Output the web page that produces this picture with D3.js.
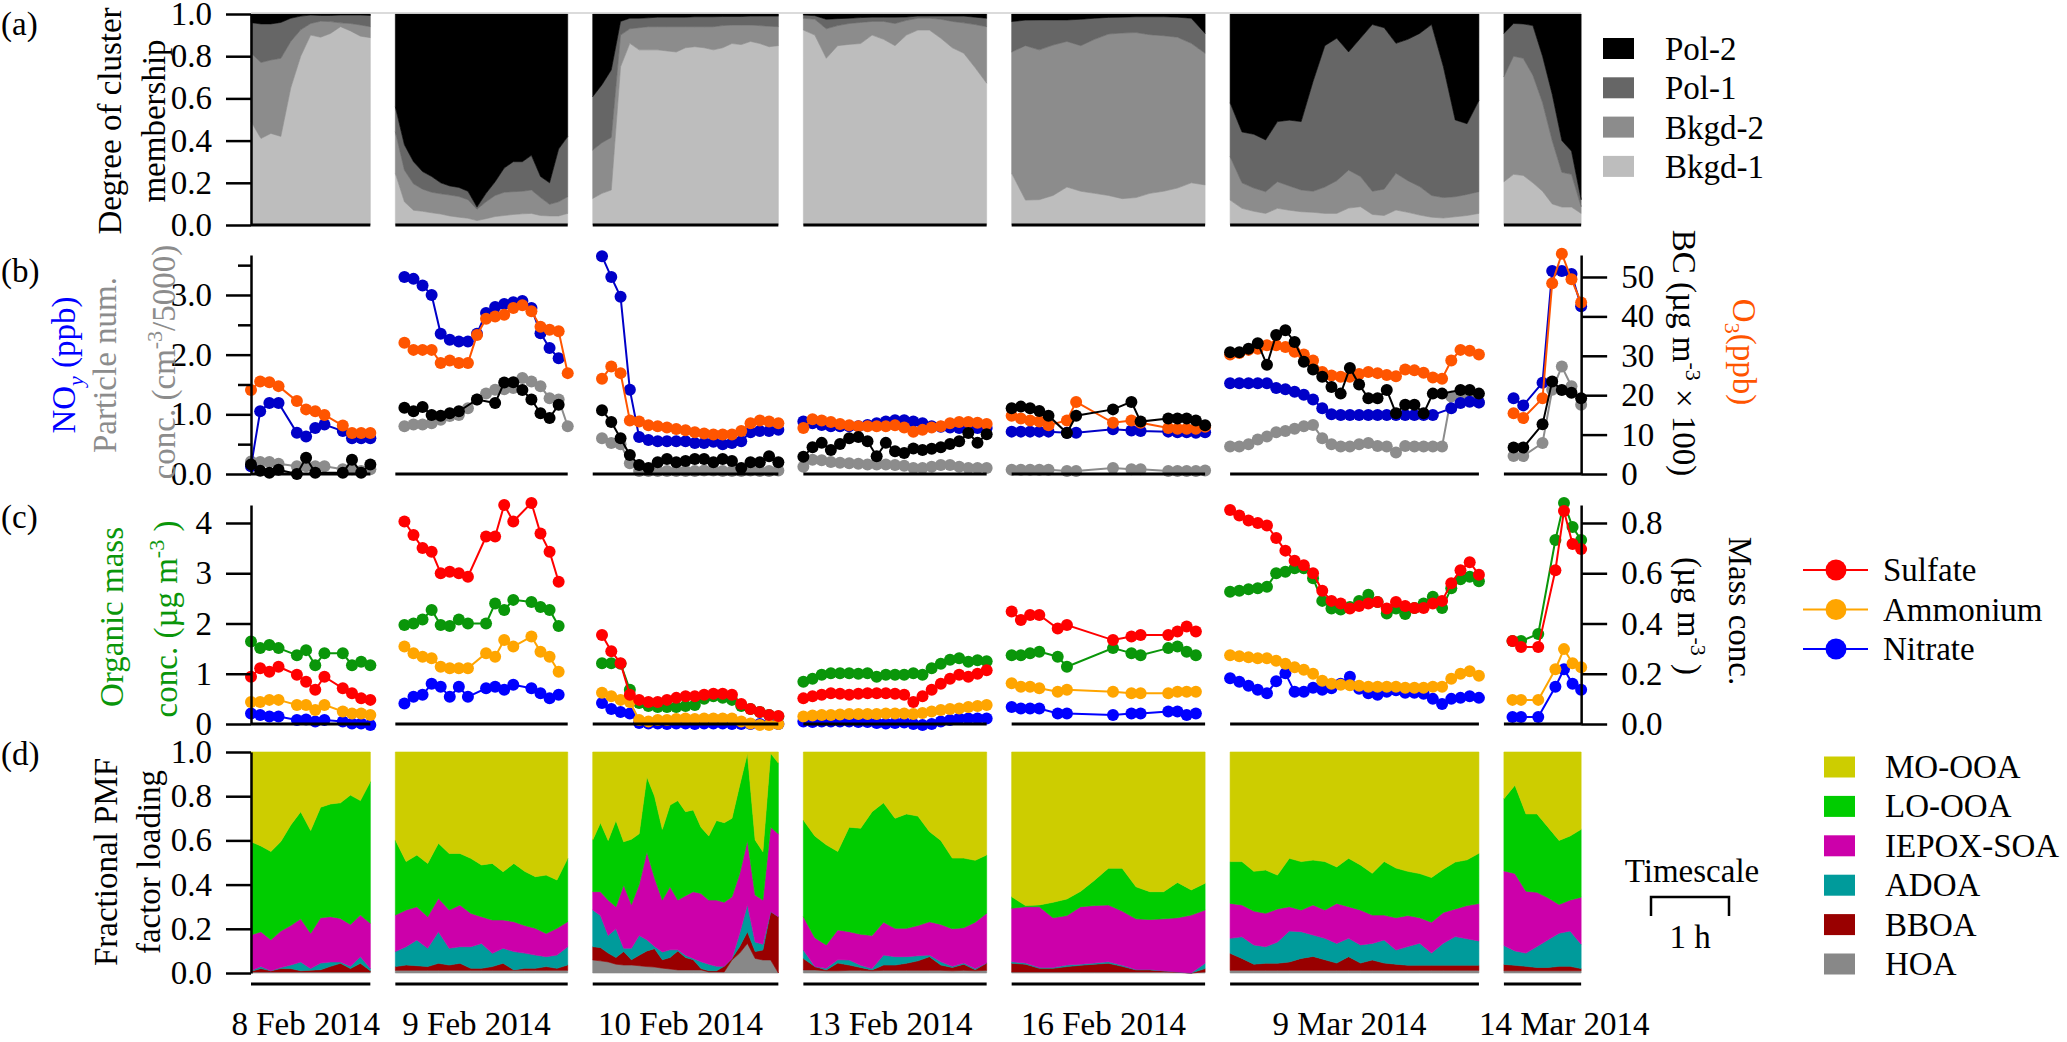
<!DOCTYPE html>
<html>
<head>
<meta charset="utf-8">
<script src="https://cdnjs.cloudflare.com/ajax/libs/d3/7.8.5/d3.min.js"></script>
<style>
  body { margin: 0; background: #fff; }
  svg text { font-family: "Liberation Serif", "Times New Roman", serif; }
</style>
</head>
<body>
<svg id="chart" width="2067" height="1042"></svg>
<script>
// ---- data ----
const segmentLabels = ["8 Feb 2014", "9 Feb 2014", "10 Feb 2014", "13 Feb 2014", "16 Feb 2014", "9 Mar 2014", "14 Mar 2014"];
const segmentHours = [1.53, 2.21, 2.38, 2.35, 2.48, 3.19, 0.99];

// (a) degree of cluster membership, one array per segment
const bkgd1 = [
  [0.49, 0.41, 0.434, 0.42, 0.65, 0.8, 0.9, 0.89, 0.908, 0.94, 0.92, 0.895, 0.888],
  [0.245, 0.11, 0.07, 0.065, 0.058, 0.052, 0.043, 0.037, 0.032, 0.021, 0.03, 0.04, 0.045, 0.05, 0.053, 0.055, 0.045, 0.043, 0.043, 0.055],
  [0.126, 0.15, 0.166, 0.75, 0.861, 0.83, 0.83, 0.83, 0.825, 0.82, 0.84, 0.845, 0.84, 0.83, 0.84, 0.86, 0.855, 0.87, 0.86, 0.845, 0.85],
  [0.924, 0.9, 0.79, 0.85, 0.856, 0.86, 0.9, 0.88, 0.85, 0.9, 0.924, 0.924, 0.885, 0.84, 0.814, 0.745, 0.672],
  [0.245, 0.118, 0.12, 0.14, 0.18, 0.16, 0.15, 0.14, 0.125, 0.13, 0.15, 0.16, 0.175, 0.2, 0.19],
  [0.118, 0.079, 0.065, 0.055, 0.079, 0.07, 0.063, 0.06, 0.055, 0.055, 0.08, 0.087, 0.05, 0.045, 0.071, 0.06, 0.047, 0.037, 0.033, 0.039, 0.045, 0.055],
  [0.205, 0.24, 0.235, 0.2, 0.16, 0.1, 0.085, 0.085, 0.055]
];
const bkgd2 = [
  [0.325, 0.36, 0.348, 0.37, 0.22, 0.125, 0.055, 0.076, 0.056, 0.018, 0.035, 0.053, 0.052],
  [0.197, 0.15, 0.125, 0.105, 0.097, 0.096, 0.099, 0.098, 0.088, 0.054, 0.08, 0.1, 0.11, 0.108, 0.107, 0.111, 0.085, 0.055, 0.067, 0.079],
  [0.229, 0.24, 0.249, 0.15, 0.069, 0.105, 0.11, 0.11, 0.115, 0.12, 0.1, 0.095, 0.1, 0.11, 0.105, 0.088, 0.093, 0.078, 0.085, 0.097, 0.09],
  [0.056, 0.075, 0.14, 0.095, 0.099, 0.1, 0.065, 0.085, 0.105, 0.07, 0.056, 0.056, 0.09, 0.125, 0.144, 0.205, 0.268],
  [0.575, 0.732, 0.71, 0.713, 0.69, 0.69, 0.73, 0.765, 0.785, 0.782, 0.752, 0.737, 0.715, 0.661, 0.624],
  [0.206, 0.121, 0.11, 0.103, 0.126, 0.115, 0.103, 0.1, 0.125, 0.155, 0.18, 0.143, 0.11, 0.125, 0.174, 0.15, 0.135, 0.103, 0.097, 0.095, 0.1, 0.103],
  [0.498, 0.56, 0.555, 0.51, 0.42, 0.3, 0.165, 0.155, 0.032]
];
const pol1 = [
  [0.144, 0.183, 0.171, 0.17, 0.11, 0.065, 0.04, 0.027, 0.029, 0.037, 0.04, 0.047, 0.053],
  [0.118, 0.12, 0.105, 0.083, 0.075, 0.052, 0.043, 0.043, 0.04, 0.01, 0.04, 0.065, 0.115, 0.142, 0.14, 0.164, 0.1, 0.102, 0.25, 0.285],
  [0.253, 0.275, 0.32, 0.065, 0.05, 0.045, 0.042, 0.045, 0.045, 0.045, 0.045, 0.047, 0.047, 0.047, 0.043, 0.04, 0.04, 0.042, 0.045, 0.048, 0.05],
  [0.015, 0.017, 0.045, 0.033, 0.025, 0.023, 0.02, 0.02, 0.03, 0.016, 0.01, 0.01, 0.015, 0.025, 0.032, 0.035, 0.04],
  [0.144, 0.121, 0.142, 0.119, 0.102, 0.125, 0.1, 0.079, 0.075, 0.075, 0.085, 0.09, 0.095, 0.119, 0.094],
  [0.255, 0.241, 0.255, 0.245, 0.285, 0.312, 0.324, 0.52, 0.67, 0.675, 0.56, 0.655, 0.79, 0.765, 0.616, 0.67, 0.726, 0.81, 0.62, 0.364, 0.335, 0.432],
  [0.205, 0.155, 0.163, 0.235, 0.22, 0.22, 0.15, 0.11, 0.033]
];
const pol2 = [
  [0.041, 0.047, 0.047, 0.04, 0.02, 0.01, 0.005, 0.007, 0.007, 0.005, 0.005, 0.005, 0.007],
  [0.44, 0.62, 0.7, 0.747, 0.77, 0.8, 0.815, 0.822, 0.84, 0.915, 0.85, 0.795, 0.73, 0.7, 0.7, 0.67, 0.77, 0.8, 0.64, 0.581],
  [0.392, 0.335, 0.265, 0.035, 0.02, 0.02, 0.018, 0.015, 0.015, 0.015, 0.015, 0.013, 0.013, 0.013, 0.012, 0.012, 0.012, 0.01, 0.01, 0.01, 0.01],
  [0.005, 0.008, 0.025, 0.022, 0.02, 0.017, 0.015, 0.015, 0.015, 0.014, 0.01, 0.01, 0.01, 0.01, 0.01, 0.015, 0.02],
  [0.036, 0.029, 0.028, 0.028, 0.028, 0.025, 0.02, 0.016, 0.015, 0.013, 0.013, 0.013, 0.015, 0.02, 0.092],
  [0.421, 0.559, 0.57, 0.597, 0.51, 0.503, 0.51, 0.32, 0.15, 0.115, 0.18, 0.115, 0.05, 0.065, 0.139, 0.12, 0.092, 0.05, 0.25, 0.502, 0.52, 0.41],
  [0.092, 0.045, 0.047, 0.055, 0.2, 0.38, 0.6, 0.65, 0.88]
];

// (b) NOy (ppb) and particle number (cm-3/5000) on the left axis
const noy = [
  [0.13, 1.05, 1.19, 1.19, null, 0.69, 0.63, 0.77, 0.83, null, 0.72, 0.6, 0.6, 0.6],
  [null, 3.3, 3.27, 3.16, 3.0, 2.35, 2.25, 2.22, 2.22, 2.35, 2.7, 2.8, 2.85, 2.88, 2.9, 2.78, 2.36, 2.11, 1.94, null],
  [null, 3.65, 3.3, 2.97, 1.41, 0.62, 0.57, 0.55, 0.55, 0.55, 0.55, 0.52, 0.52, 0.54, 0.5, 0.52, 0.55, 0.7, 0.72, 0.72, 0.74],
  [0.88, 0.85, 0.82, 0.8, 0.8, 0.8, 0.8, 0.82, 0.85, 0.88, 0.9, 0.9, 0.88, 0.85, 0.8, 0.79, 0.78, 0.77, 0.77, 0.77, 0.77],
  [0.71, 0.71, 0.71, 0.71, 0.71, null, 0.69, 0.69, null, null, null, 0.75, null, 0.73, 0.72, null, null, 0.71, 0.7, 0.7, 0.69, 0.7],
  [1.52, 1.52, 1.52, 1.52, 1.52, 1.44, 1.42, 1.38, 1.33, 1.25, 1.1, 1.0, 0.99, 0.99, 0.99, 0.99, 0.99, 0.99, 0.99, 0.99, 0.99, 0.99, 0.99, null, 1.1, 1.19, 1.21, 1.2],
  [null, 1.27, 1.15, null, 1.53, 3.4, 3.4, 3.35, 2.81]
];
const particles = [
  [0.21, 0.2, 0.2, 0.17, null, 0.13, 0.13, 0.13, 0.13, null, 0.08, 0.08, 0.05, 0.08],
  [null, 0.8, 0.83, 0.83, 0.85, 0.91, 0.97, 0.99, 1.1, 1.25, 1.35, 1.41, 1.42, 1.44, 1.61, 1.55, 1.47, 1.27, 1.25, 0.8],
  [null, 0.6, 0.52, 0.5, 0.18, 0.05, 0.05, 0.05, 0.05, 0.05, 0.05, 0.05, 0.06, 0.06, 0.05, 0.05, 0.05, 0.06, 0.05, 0.05, 0.06],
  [0.12, 0.24, 0.23, 0.2, 0.19, 0.18, 0.17, 0.16, 0.16, 0.16, 0.15, 0.14, 0.1, 0.1, 0.12, 0.15, 0.15, 0.12, 0.1, 0.1, 0.1],
  [0.07, 0.07, 0.07, 0.07, 0.07, null, 0.05, 0.05, null, null, null, 0.1, null, 0.08, 0.08, null, null, 0.05, 0.05, 0.05, 0.05, 0.06],
  [0.46, 0.46, 0.5, 0.58, 0.63, 0.7, 0.72, 0.76, 0.8, 0.82, 0.6, 0.5, 0.46, 0.46, 0.5, 0.52, 0.47, 0.46, 0.36, 0.47, 0.46, 0.46, 0.46, 0.46, 1.3, 1.26, 1.29, 1.2],
  [null, 0.3, 0.3, null, 0.52, 1.41, 1.8, 1.47, 1.16]
];
// (b) BC (ug m-3 x 100) and O3 (ppb) on the right axis
const bc = [
  [2.4, 0.8, 0.3, 1.1, null, 0, 4.1, 0.3, null, null, 0.3, 3.6, 0.3, 2.4],
  [null, 16.8, 15.9, 17.0, 15.0, 14.8, 15.4, 15.9, null, 18.9, null, 18.0, 23.2, 23.3, 21.3, 18.9, 15.4, 14.2, 17.6, null],
  [null, 16.2, 13.2, 9.1, 4.8, 2.3, 1.5, 3.0, 3.8, 3.0, 3.3, 3.8, 3.8, 3.0, 3.8, 3.3, 1.5, 3.0, 3.0, 4.5, 3.0],
  [4.4, 6.8, 7.9, 6.1, 7.6, 9.1, 9.4, 8.3, 4.5, 7.9, 5.8, 5.3, 6.5, 6.1, 6.4, 6.8, 7.6, 8.3, 10.4, 7.9, 10.1],
  [16.7, 17.1, 16.7, 16.0, 14.8, null, 10.4, 14.8, null, null, null, 16.4, null, 18.3, 13.3, null, null, 14.1, 14.1, 14.1, 13.6, 12.4],
  [30.9, 30.9, 31.8, 33.2, 27.7, 35.3, 36.5, 33.5, 28.5, 26.5, 24.7, 22.1, 20.4, 26.9, 22.7, 19.2, 19.2, 21.3, 15.4, 17.6, 17.6, 15.4, 20.4, 20.4, null, 21.3, 21.3, 20.4],
  [null, 6.7, 6.7, null, 12.6, 23.5, 21.3, 20.6, 19.2]
];
const ozone = [
  [21.3, 23.5, 23.3, 22.3, null, 18.5, 16.4, 15.9, 15.0, null, 12.3, 10.4, 10.4, 10.4],
  [null, 33.3, 31.5, 31.5, 31.5, 28.2, 28.8, 28.2, 28.2, 35.3, 39.4, 40.0, 40.4, 42.1, 42.8, 41.3, 37.4, 36.6, 36.2, 25.6],
  [null, 24.2, 27.3, 25.6, 13.6, 13.3, 12.4, 12.1, 11.8, 11.4, 11.1, 10.6, 10.3, 10.0, 10.0, 10.0, 10.9, 12.9, 13.6, 13.3, 12.9],
  [11.7, 13.9, 13.6, 13.2, 12.7, 12.4, 12.1, 12.1, 12.1, 12.1, 12.4, 11.8, 10.7, 11.2, 11.8, 12.1, 12.9, 13.2, 13.2, 13.0, 12.7],
  [14.8, 14.1, 13.6, 13.3, 12.4, null, 13.6, 18.3, null, null, null, 13.0, null, 13.6, 13.0, null, null, 11.7, 11.5, 11.5, 11.5, 12.0],
  [30.3, 30.7, 31.5, 31.8, 32.7, 32.7, 32.2, 31.0, 30.3, 28.8, 25.9, 25.0, 24.7, 24.7, 25.4, 25.9, 25.6, 25.1, 24.8, 26.5, 26.3, 25.7, 24.5, 24.2, 28.8, 31.5, 31.3, 30.3],
  [null, 15.4, 14.2, null, 19.2, 48.4, 55.9, 49.4, 43.5]
];

// (c) organic mass (left axis, ug m-3)
const organic = [
  [1.64, 1.51, 1.57, 1.51, null, 1.37, 1.47, 1.17, 1.41, null, 1.41, 1.17, 1.24, 1.17],
  [null, 1.97, 2.0, 2.08, 2.27, 1.97, 1.95, 2.08, 2.0, null, 2.0, 2.4, 2.27, 2.47, null, 2.43, 2.33, 2.27, 1.95, null],
  [null, 1.21, 1.21, 1.2, 0.68, 0.42, 0.36, 0.34, 0.34, 0.34, 0.36, 0.38, 0.5, 0.55, 0.52, 0.48, 0.36, 0.3, 0.24, 0.18, 0.15],
  [0.84, 0.9, 0.98, 1.01, 1.01, 1.01, 1.0, 1.01, 0.94, 0.98, 0.98, 0.98, 1.01, 0.98, 1.11, 1.2, 1.28, 1.31, 1.24, 1.27, 1.25],
  [1.37, 1.37, 1.41, 1.44, null, 1.34, 1.14, null, null, null, null, 1.51, null, 1.41, 1.37, null, null, 1.51, 1.54, 1.44, 1.37, null],
  [2.63, 2.65, 2.68, 2.7, 2.73, 3.0, 3.03, 3.1, 3.1, 2.9, 2.45, 2.3, 2.28, 2.33, 2.45, 2.57, 2.43, 2.2, 2.3, 2.19, 2.31, 2.4, 2.53, 2.31, 2.7, 2.88, 2.93, 2.84],
  [null, 1.65, 1.65, null, 1.79, null, 3.66, 4.4, 3.92, 3.66]
];
// (c) inorganic species (right axis, ug m-3)
const sulfate = [
  [0.188, 0.222, 0.208, 0.228, null, 0.196, 0.168, 0.136, 0.188, null, 0.142, 0.122, 0.102, 0.096],
  [null, 0.806, 0.752, 0.7, 0.686, 0.6, 0.606, 0.6, 0.586, null, 0.746, 0.746, 0.872, 0.806, null, 0.88, 0.758, 0.686, 0.566, null],
  [null, 0.354, 0.29, 0.242, 0.116, 0.096, 0.088, 0.088, 0.096, 0.104, 0.11, 0.11, 0.116, 0.12, 0.12, 0.116, 0.08, 0.06, 0.048, 0.036, 0.032],
  [0.102, 0.11, 0.116, 0.122, 0.12, 0.116, 0.12, 0.122, 0.122, 0.122, 0.12, 0.116, 0.088, 0.11, 0.136, 0.16, 0.18, 0.196, 0.188, 0.2, 0.214],
  [0.448, 0.414, 0.434, 0.434, null, 0.38, 0.394, null, null, null, null, 0.334, null, 0.348, 0.354, null, null, 0.354, 0.368, 0.388, 0.368, null],
  [0.852, 0.83, 0.81, 0.8, 0.79, 0.74, 0.69, 0.65, 0.632, 0.6, 0.53, 0.49, 0.48, 0.46, 0.47, 0.48, 0.486, 0.46, 0.486, 0.47, 0.462, 0.462, 0.48, 0.49, 0.56, 0.612, 0.644, 0.594],
  [null, 0.33, 0.306, null, 0.306, null, 0.612, 0.848, 0.716, 0.696]
];
const ammonium = [
  [0.088, 0.088, 0.096, 0.096, null, 0.076, 0.076, 0.056, 0.076, null, 0.05, 0.042, 0.042, 0.036],
  [null, 0.308, 0.282, 0.268, 0.262, 0.228, 0.222, 0.222, 0.222, null, 0.282, 0.268, 0.334, 0.308, null, 0.348, 0.288, 0.268, 0.208, null],
  [null, 0.124, 0.11, 0.096, 0.088, 0.016, 0.01, 0.016, 0.016, 0.02, 0.022, 0.02, 0.022, 0.022, 0.022, 0.022, 0.01, 0.002, -0.004, -0.004, 0.0],
  [0.03, 0.034, 0.036, 0.036, 0.038, 0.04, 0.04, 0.04, 0.04, 0.042, 0.042, 0.042, 0.04, 0.044, 0.05, 0.056, 0.06, 0.062, 0.068, 0.072, 0.076],
  [0.162, 0.148, 0.148, 0.142, null, 0.128, 0.136, null, null, null, null, 0.128, null, 0.122, 0.122, null, null, 0.122, 0.128, 0.128, 0.128, null],
  [0.274, 0.27, 0.266, 0.262, 0.262, 0.252, 0.24, 0.226, 0.216, 0.2, 0.172, 0.16, 0.156, 0.154, 0.152, 0.148, 0.148, 0.148, 0.148, 0.144, 0.144, 0.144, 0.148, 0.148, 0.18, 0.2, 0.21, 0.192],
  [null, 0.096, 0.096, null, 0.096, null, 0.218, 0.298, 0.242, 0.226]
];
const nitrate = [
  [0.042, 0.036, 0.03, 0.03, null, 0.016, 0.018, 0.01, 0.016, null, 0.01, 0.002, 0.002, -0.004],
  [null, 0.082, 0.108, 0.116, 0.16, 0.148, 0.108, 0.148, 0.108, null, 0.142, 0.148, 0.136, 0.156, null, 0.142, 0.122, 0.102, 0.116, null],
  [null, 0.084, 0.06, 0.048, 0.042, 0.004, 0.002, 0.002, 0, 0.002, 0.002, 0, 0.002, 0.002, 0.002, 0, 0, 0, 0, 0, 0],
  [0.01, 0.008, 0.01, 0.01, 0.01, 0.01, 0.008, 0.008, 0.004, 0.002, 0.004, 0.006, 0, -0.004, 0, 0.01, 0.016, 0.022, 0.022, 0.022, 0.022],
  [0.068, 0.062, 0.062, 0.062, null, 0.042, 0.042, null, null, null, null, 0.036, null, 0.042, 0.042, null, null, 0.05, 0.05, 0.036, 0.042, null],
  [0.182, 0.168, 0.152, 0.136, 0.122, 0.17, 0.202, 0.128, 0.128, 0.144, 0.136, 0.142, 0.16, 0.188, 0.14, 0.122, 0.116, 0.128, 0.134, 0.124, 0.124, 0.12, 0.1, 0.08, 0.1, 0.104, 0.11, 0.104],
  [null, 0.028, 0.028, null, 0.028, null, 0.148, 0.218, 0.16, 0.136]
];

// (d) fractional PMF factor loading
const hoa = [
  [0.005, 0.005, 0.005, 0.005, 0.005, 0.005, 0.005, 0.005, 0.005, 0.005, 0.005, 0.005, 0.005],
  [0.012, 0.012, 0.012, 0.012, 0.012, 0.012, 0.012, 0.012, 0.012, 0.012, 0.012, 0.012, 0.012, 0.012, 0.012, 0.012, 0.012],
  [0.059, 0.055, 0.05, 0.04, 0.036, 0.036, 0.033, 0.029, 0.027, 0.022, 0.018, 0.014, 0.014, 0.014, 0.014, 0.005, 0.005, 0.005, 0.059, 0.09, 0.134, 0.066, 0.059, 0.059, 0.0],
  [0.014, 0.014, 0.01, 0.01, 0.012, 0.012, 0.01, 0.012, 0.012, 0.012, 0.012, 0.012, 0.012, 0.01, 0.012, 0.01, 0.012],
  [0.005, 0.005, 0.005, 0.005, 0.005, 0.005, 0.005, 0.005, 0.005, 0.005, 0.005, 0.005, 0.003, 0.0, 0.005],
  [0.012, 0.012, 0.012, 0.012, 0.012, 0.012, 0.012, 0.012, 0.012, 0.012, 0.012, 0.012, 0.012, 0.012, 0.012, 0.012, 0.012, 0.012, 0.012, 0.012, 0.012, 0.012],
  [0.01, 0.01, 0.01, 0.01, 0.01, 0.01, 0.01, 0.01]
];
const bboa = [
  [0.003, 0.015, 0.005, 0.015, 0.015, 0.005, 0.008, 0.01, 0.025, 0.039, 0.015, 0.039, 0.005],
  [0.017, 0.024, 0.021, 0.017, 0.032, 0.024, 0.032, 0.009, 0.009, 0.017, 0.032, 0.002, 0.009, 0.009, 0.017, 0.009, 0.024],
  [0.06, 0.06, 0.04, 0.03, 0.061, 0.024, 0.047, 0.071, 0.083, 0.038, 0.052, 0.086, 0.056, 0.046, 0.006, 0.005, 0.005, 0.025, 0.007, 0.03, 0.053, 0.031, 0.045, 0.219, 0.255],
  [0.052, 0.015, 0.004, 0.035, 0.024, 0.013, 0.004, 0.024, 0.024, 0.032, 0.043, 0.062, 0.024, 0.015, 0.028, 0.005, 0.033],
  [0.039, 0.035, 0.016, 0.016, 0.024, 0.03, 0.035, 0.039, 0.025, 0.009, 0.009, 0.005, 0.002, 0.0, 0.015],
  [0.077, 0.054, 0.028, 0.032, 0.032, 0.038, 0.054, 0.063, 0.048, 0.033, 0.062, 0.033, 0.047, 0.033, 0.028, 0.023, 0.023, 0.023, 0.023, 0.023, 0.023, 0.023],
  [0.029, 0.025, 0.02, 0.015, 0.015, 0.02, 0.02, 0.01]
];
const adoa = [
  [0.002, 0.009, 0.0, 0.005, 0.016, 0.04, 0.007, 0.03, 0.02, 0.006, 0.01, 0.03, 0.01],
  [0.068, 0.083, 0.116, 0.083, 0.143, 0.076, 0.075, 0.098, 0.113, 0.06, 0.068, 0.083, 0.069, 0.06, 0.045, 0.06, 0.083],
  [0.166, 0.145, 0.08, 0.13, 0.015, 0.052, 0.09, 0.05, 0.01, 0.035, 0.035, 0.005, 0.01, 0.006, 0.031, 0.03, 0.02, 0.0, 0.0, 0.06, 0.123, 0.043, 0.026, 0.0, 0.0],
  [0.038, 0.0, 0.007, 0.015, 0.023, 0.01, 0.006, 0.045, 0.038, 0.03, 0.023, 0.007, 0.015, 0.005, 0.005, 0.005, 0.0],
  [0.007, 0.005, 0.004, 0.004, 0.007, 0.005, 0.005, 0.007, 0.005, 0.002, 0.002, 0.0, 0.0, 0.0, 0.024],
  [0.068, 0.098, 0.087, 0.075, 0.096, 0.14, 0.121, 0.097, 0.097, 0.089, 0.083, 0.082, 0.075, 0.104, 0.064, 0.085, 0.1, 0.055, 0.1, 0.13, 0.12, 0.11],
  [0.085, 0.065, 0.06, 0.095, 0.125, 0.15, 0.16, 0.11]
];
const iepoxSoa = [
  [0.162, 0.158, 0.14, 0.165, 0.179, 0.195, 0.16, 0.205, 0.205, 0.197, 0.19, 0.188, 0.205],
  [0.165, 0.166, 0.151, 0.143, 0.151, 0.173, 0.189, 0.151, 0.121, 0.151, 0.128, 0.135, 0.125, 0.121, 0.105, 0.121, 0.113],
  [0.083, 0.108, 0.16, 0.1, 0.286, 0.198, 0.23, 0.399, 0.31, 0.235, 0.285, 0.225, 0.27, 0.302, 0.309, 0.29, 0.3, 0.29, 0.279, 0.27, 0.29, 0.213, 0.2, 0.382, 0.375],
  [0.151, 0.131, 0.106, 0.135, 0.128, 0.14, 0.15, 0.149, 0.128, 0.128, 0.137, 0.151, 0.169, 0.17, 0.16, 0.21, 0.225],
  [0.242, 0.255, 0.275, 0.225, 0.224, 0.26, 0.26, 0.257, 0.245, 0.229, 0.226, 0.235, 0.245, 0.262, 0.241],
  [0.158, 0.144, 0.153, 0.151, 0.15, 0.11, 0.098, 0.136, 0.128, 0.181, 0.143, 0.158, 0.128, 0.113, 0.146, 0.14, 0.115, 0.14, 0.139, 0.125, 0.15, 0.169],
  [0.338, 0.35, 0.28, 0.245, 0.19, 0.13, 0.14, 0.213]
];
const loOoa = [
  [0.422, 0.388, 0.4, 0.405, 0.455, 0.485, 0.465, 0.5, 0.51, 0.523, 0.585, 0.518, 0.641],
  [0.34, 0.219, 0.234, 0.241, 0.249, 0.256, 0.233, 0.249, 0.234, 0.256, 0.218, 0.264, 0.245, 0.234, 0.264, 0.219, 0.287],
  [0.234, 0.312, 0.27, 0.39, 0.196, 0.295, 0.23, 0.339, 0.37, 0.32, 0.37, 0.45, 0.38, 0.37, 0.3, 0.29, 0.36, 0.36, 0.355, 0.4, 0.394, 0.249, 0.219, 0.334, 0.32],
  [0.437, 0.46, 0.453, 0.355, 0.473, 0.48, 0.56, 0.54, 0.498, 0.518, 0.495, 0.408, 0.38, 0.32, 0.315, 0.28, 0.264],
  [0.052, 0.005, 0.008, 0.07, 0.075, 0.07, 0.115, 0.166, 0.194, 0.145, 0.126, 0.123, 0.16, 0.114, 0.121],
  [0.189, 0.196, 0.18, 0.196, 0.153, 0.219, 0.219, 0.203, 0.219, 0.165, 0.219, 0.204, 0.189, 0.243, 0.225, 0.2, 0.2, 0.202, 0.196, 0.212, 0.207, 0.228],
  [0.327, 0.4, 0.35, 0.355, 0.32, 0.29, 0.29, 0.307]
];
const moOoa = [
  [0.406, 0.425, 0.45, 0.405, 0.33, 0.27, 0.355, 0.25, 0.235, 0.23, 0.195, 0.22, 0.134],
  [0.398, 0.496, 0.466, 0.504, 0.413, 0.459, 0.459, 0.481, 0.511, 0.504, 0.542, 0.504, 0.54, 0.564, 0.557, 0.579, 0.481],
  [0.398, 0.32, 0.4, 0.31, 0.406, 0.395, 0.37, 0.112, 0.2, 0.35, 0.24, 0.22, 0.27, 0.262, 0.34, 0.38, 0.31, 0.32, 0.3, 0.15, 0.006, 0.398, 0.451, 0.006, 0.05],
  [0.308, 0.38, 0.42, 0.45, 0.34, 0.345, 0.27, 0.23, 0.3, 0.28, 0.29, 0.36, 0.4, 0.48, 0.48, 0.49, 0.466],
  [0.655, 0.695, 0.692, 0.68, 0.665, 0.63, 0.58, 0.526, 0.526, 0.61, 0.632, 0.632, 0.59, 0.624, 0.594],
  [0.496, 0.496, 0.54, 0.534, 0.557, 0.481, 0.496, 0.489, 0.496, 0.52, 0.481, 0.511, 0.549, 0.495, 0.525, 0.54, 0.55, 0.568, 0.53, 0.498, 0.488, 0.458],
  [0.211, 0.15, 0.28, 0.28, 0.34, 0.4, 0.38, 0.35]
];

const clusterNames = ["Pol-2", "Pol-1", "Bkgd-2", "Bkgd-1"];
const speciesNames = ["Sulfate", "Ammonium", "Nitrate"];
const factorNames = ["MO-OOA", "LO-OOA", "IEPOX-SOA", "ADOA", "BBOA", "HOA"];

// ---- layout ----
const FONT = "'Liberation Serif', 'Times New Roman', serif";
const LEFT = 251;
const PX_PER_HOUR = 78;
const GAP = 25;

const svg = d3.select("#chart");

const segs = [];
let cursor = LEFT;
segmentHours.forEach((h, i) => {
  const w = h * PX_PER_HOUR;
  segs.push({ x0: cursor, x1: cursor + w, label: segmentLabels[i] });
  cursor += w + GAP;
});
const RIGHT = segs[segs.length - 1].x1;
const segX = (s, n) => d3.scaleLinear().domain([0, n - 1]).range([segs[s].x0, segs[s].x1]);

const yA = d3.scaleLinear().domain([0, 1]).range([225, 14]);
const yBL = d3.scaleLinear().domain([0, 3.67]).range([474, 255]);
const yBR = d3.scaleLinear().domain([0, 55.58]).range([474, 255]);
const yCL = d3.scaleLinear().domain([0, 4.358]).range([724, 505]);
const yCR = d3.scaleLinear().domain([0, 0.8716]).range([724, 505]);
const yD = d3.scaleLinear().domain([0, 1]).range([973, 752]);

const clusterColors = { "Pol-2": "#000000", "Pol-1": "#666666", "Bkgd-2": "#8c8c8c", "Bkgd-1": "#bdbdbd" };
const factorColors = { "MO-OOA": "#cdcd00", "LO-OOA": "#00cc00", "IEPOX-SOA": "#cc00aa", "ADOA": "#009b9b", "BBOA": "#990000", "HOA": "#888888" };
const speciesColors = { "Sulfate": "#ff0000", "Ammonium": "#ffa500", "Nitrate": "#0000ff" };

// ---- stacked areas ----
function drawStack(series, names, colors, y) {
  const g = svg.append("g");
  segs.forEach((seg, s) => {
    const n = series[0][s].length;
    const rows = d3.range(n).map((i) => {
      const row = {};
      names.forEach((k, j) => { row[k] = series[j][s][i]; });
      return row;
    });
    const x = segX(s, n);
    const stacked = d3.stack().keys(names).offset(d3.stackOffsetExpand)(rows);
    const area = d3.area().x((d, i) => x(i)).y0((d) => y(d[0])).y1((d) => y(d[1]));
    g.selectAll(null).data(stacked).join("path")
      .attr("d", area)
      .attr("fill", (d) => colors[d.key])
      .attr("stroke", (d) => colors[d.key])
      .attr("stroke-width", 0.6);
  });
}

// bottom-to-top order
drawStack([bkgd1, bkgd2, pol1, pol2], ["Bkgd-1", "Bkgd-2", "Pol-1", "Pol-2"], clusterColors, yA);
drawStack([hoa, bboa, adoa, iepoxSoa, loOoa, moOoa], ["HOA", "BBOA", "ADOA", "IEPOX-SOA", "LO-OOA", "MO-OOA"], factorColors, yD);

// ---- lines with markers ----
function drawLines(values, y, color) {
  const g = svg.append("g");
  values.forEach((vals, s) => {
    const x = segX(s, vals.length);
    const pts = vals.map((v, i) => [x(i), v]).filter((p) => p[1] !== null);
    g.append("path")
      .attr("d", d3.line().x((p) => p[0]).y((p) => y(p[1]))(pts))
      .attr("fill", "none")
      .attr("stroke", color)
      .attr("stroke-width", 2);
    g.selectAll(null).data(pts).join("circle")
      .attr("cx", (p) => p[0])
      .attr("cy", (p) => y(p[1]))
      .attr("r", 6)
      .attr("fill", color);
  });
}

drawLines(particles, yBL, "#8c8c8c");
drawLines(noy, yBL, "#0000c8");
drawLines(ozone, yBR, "#ff5500");
drawLines(bc, yBR, "#000000");

drawLines(organic, yCL, "#0a960a");
drawLines(nitrate, yCR, speciesColors.Nitrate);
drawLines(ammonium, yCR, speciesColors.Ammonium);
drawLines(sulfate, yCR, speciesColors.Sulfate);

// ---- segment baselines ----
const baseG = svg.append("g");
[225, 474, 724, 984].forEach((yy) => {
  segs.forEach((seg) => {
    baseG.append("line").attr("x1", seg.x0).attr("x2", seg.x1).attr("y1", yy).attr("y2", yy)
      .attr("stroke", "#000").attr("stroke-width", 3);
  });
});
svg.append("line").attr("x1", LEFT).attr("x2", RIGHT).attr("y1", 13).attr("y2", 13)
  .attr("stroke", "#cfcfcf").attr("stroke-width", 1.5);

// ---- axes ----
function yAxis(scale, side, x, values, fmt, size) {
  const ax = (side === "left" ? d3.axisLeft(scale) : d3.axisRight(scale))
    .tickValues(values).tickFormat(fmt).tickSize(size).tickSizeOuter(0).tickPadding(14);
  const g = svg.append("g").attr("transform", `translate(${x},0)`).call(ax);
  g.attr("font-family", null).attr("font-size", null);
  g.selectAll(".tick line").attr("stroke-width", 2.5);
  g.select(".domain").attr("stroke-width", 2.5);
  g.selectAll("text").style("font-family", FONT).style("font-size", "33px").attr("fill", "#000");
  return g;
}

yAxis(yA, "left", LEFT, [0, 0.2, 0.4, 0.6, 0.8, 1.0], d3.format(".1f"), 25);
yAxis(yBL, "left", LEFT, [0, 1, 2, 3], d3.format(".1f"), 25);
yAxis(yBL, "left", LEFT, [0.5, 1.5, 2.5, 3.5], () => "", 13).select(".domain").remove();
yAxis(yBR, "right", RIGHT, [0, 10, 20, 30, 40, 50], d3.format("d"), 26);
yAxis(yCL, "left", LEFT, [0, 1, 2, 3, 4], d3.format("d"), 25);
yAxis(yCR, "right", RIGHT, [0, 0.2, 0.4, 0.6, 0.8], d3.format(".1f"), 26);
yAxis(yD, "left", LEFT, [0, 0.2, 0.4, 0.6, 0.8, 1.0], d3.format(".1f"), 25);

// ---- text helpers ----
function addLabel(x, y, angle, parts, color, anchor) {
  const t = svg.append("text")
    .attr("transform", `translate(${x},${y}) rotate(${angle})`)
    .attr("text-anchor", anchor || "middle")
    .attr("fill", color)
    .style("font-family", FONT)
    .style("font-size", "33px");
  let shift = 0;
  parts.forEach((p) => {
    const part = typeof p === "string" ? { t: p } : p;
    const target = part.sup ? -13 : part.sub ? 8 : 0;
    const ts = t.append("tspan").text(part.t).attr("dy", target - shift);
    if (part.sup || part.sub) ts.style("font-size", "22px");
    if (part.it) ts.style("font-style", "italic");
    shift = target;
  });
  return t;
}

// panel letters
addLabel(1, 35, 0, ["(a)"], "#000", "start");
addLabel(1, 282, 0, ["(b)"], "#000", "start");
addLabel(1, 528, 0, ["(c)"], "#000", "start");
addLabel(1, 765, 0, ["(d)"], "#000", "start");

// left axis titles
addLabel(121, 121, -90, ["Degree of cluster"], "#000");
addLabel(165, 121, -90, ["membership"], "#000");

addLabel(75, 365, -90, ["NO", { t: "y", sub: true, it: true }, " (ppb)"], "#0000ff");
addLabel(116, 365, -90, ["Particle num."], "#8c8c8c");
addLabel(175, 362, -90, ["conc. (cm", { t: "-3", sup: true }, "/5000)"], "#8c8c8c");

addLabel(123, 617, -90, ["Organic mass"], "#0a960a");
addLabel(177, 619, -90, ["conc. (µg m", { t: "-3", sup: true }, " )"], "#0a960a");

addLabel(117, 862, -90, ["Fractional PMF"], "#000");
addLabel(160, 862, -90, ["factor loading"], "#000");

// right axis titles
addLabel(1673, 353, 90, ["BC (µg m", { t: "-3", sup: true }, " × 100)"], "#000");
addLabel(1733, 352, 90, ["O", { t: "3", sub: true }, "(ppb)"], "#ff5500");
addLabel(1678, 616, 90, ["(µg m", { t: "-3", sup: true }, " )"], "#000");
addLabel(1729, 611, 90, ["Mass conc."], "#000");

// date labels
segs.forEach((seg, i) => {
  const last = i === segs.length - 1;
  addLabel(last ? seg.x0 - 25 : (seg.x0 + seg.x1) / 2 - 5, 1035, 0, [seg.label], "#000", last ? "start" : "middle");
});

// ---- legends ----
const legA = svg.append("g");
clusterNames.forEach((name, i) => {
  const yy = 38 + i * 39.3;
  legA.append("rect").attr("x", 1603).attr("y", yy).attr("width", 31).attr("height", 21).attr("fill", clusterColors[name]);
  addLabel(1665, yy + 22, 0, [name], "#000", "start");
});

const legC = svg.append("g");
speciesNames.forEach((name, i) => {
  const yy = 570 + i * 39.5;
  legC.append("line").attr("x1", 1803).attr("x2", 1868).attr("y1", yy).attr("y2", yy)
    .attr("stroke", speciesColors[name]).attr("stroke-width", 2);
  legC.append("circle").attr("cx", 1836).attr("cy", yy).attr("r", 10.5).attr("fill", speciesColors[name]);
  addLabel(1883, yy + 11, 0, [name], "#000", "start");
});

const legD = svg.append("g");
factorNames.forEach((name, i) => {
  const yy = 767 + i * 39.4;
  legD.append("rect").attr("x", 1824).attr("y", yy - 10.5).attr("width", 31).attr("height", 21).attr("fill", factorColors[name]);
  addLabel(1885, yy + 11, 0, [name], "#000", "start");
});

// timescale bar (1 h)
addLabel(1692, 882, 0, ["Timescale"], "#000");
svg.append("path")
  .attr("d", `M1651,916V897H${1651 + PX_PER_HOUR}V916`)
  .attr("fill", "none").attr("stroke", "#000").attr("stroke-width", 2.5);
addLabel(1690, 948, 0, ["1 h"], "#000");
</script>
</body>
</html>
